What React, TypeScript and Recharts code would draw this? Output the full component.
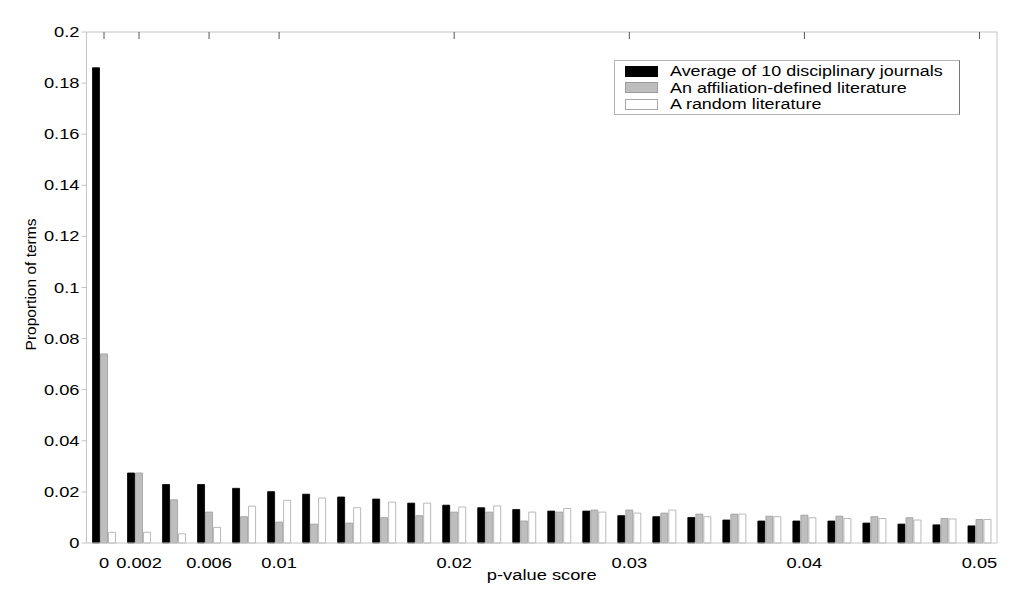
import React from 'react';
import { BarChart, Bar, XAxis, YAxis, Legend } from 'recharts';

const pValues = [
  '0', '0.002', '0.004', '0.006', '0.008', '0.01', '0.012', '0.014', '0.016', '0.018',
  '0.02', '0.022', '0.024', '0.026', '0.028', '0.03', '0.032', '0.034', '0.036', '0.038',
  '0.04', '0.042', '0.044', '0.046', '0.048', '0.05',
];

const disciplinary = [
  0.186, 0.0274, 0.0229, 0.0229, 0.0214, 0.0201, 0.0191, 0.018, 0.0172, 0.0156,
  0.0148, 0.0138, 0.0131, 0.0125, 0.0125, 0.0107, 0.0103, 0.01, 0.009, 0.0086,
  0.0086, 0.0086, 0.0078, 0.0074, 0.0071, 0.0067,
];

const affiliation = [
  0.074, 0.0274, 0.0169, 0.0121, 0.0103, 0.0082, 0.0074, 0.0078, 0.0099, 0.0107,
  0.0121, 0.0121, 0.0086, 0.0121, 0.0129, 0.0129, 0.0117, 0.0113, 0.0113, 0.0105,
  0.0109, 0.0105, 0.0103, 0.0099, 0.0096, 0.0092,
];

const randomLit = [
  0.0042, 0.0042, 0.0036, 0.0061, 0.0144, 0.0167, 0.0176, 0.0138, 0.016, 0.0156,
  0.0141, 0.0145, 0.0121, 0.0135, 0.0121, 0.0117, 0.0129, 0.0103, 0.0113, 0.0103,
  0.0099, 0.0096, 0.0096, 0.009, 0.0094, 0.0092,
];

const xTickLabels = ['0', '0.002', '0.006', '0.01', '0.02', '0.03', '0.04', '0.05'];
const yTicks = [0, 0.02, 0.04, 0.06, 0.08, 0.1, 0.12, 0.14, 0.16, 0.18, 0.2];
const yTickLabels = ['0', '0.02', '0.04', '0.06', '0.08', '0.1', '0.12', '0.14', '0.16', '0.18', '0.2'];

const series = [
  { key: 'disciplinary', name: 'Average of 10 disciplinary journals', fill: '#000000', stroke: '#000000' },
  { key: 'affiliation', name: 'An affiliation-defined literature', fill: '#bebebe', stroke: '#9c9c9c' },
  { key: 'randomLit', name: 'A random literature', fill: '#ffffff', stroke: '#a8a8a8' },
];

const data = pValues.map((p, i) => ({
  p,
  disciplinary: disciplinary[i],
  affiliation: affiliation[i],
  randomLit: randomLit[i],
}));

const FONT = '"Liberation Sans", Arial, Helvetica, sans-serif';
const STRETCH = 1.22;
const AXIS = '#c4c4c4';

const XTick = (props: any) => {
  const { x, y, payload } = props;
  if (!xTickLabels.includes(payload.value)) return null;
  return (
    <text
      transform={`translate(${x},${y + 17}) scale(${STRETCH},1)`}
      textAnchor="middle"
      fontFamily={FONT}
      fontSize={15}
      fill="#000"
    >
      {payload.value}
    </text>
  );
};

const YTick = (props: any) => {
  const { x, y, payload } = props;
  const idx = yTicks.indexOf(payload.value);
  return (
    <text
      transform={`translate(${x},${y + 5}) scale(${STRETCH},1)`}
      textAnchor="end"
      fontFamily={FONT}
      fontSize={15}
      fill="#000"
    >
      {idx >= 0 ? yTickLabels[idx] : ''}
    </text>
  );
};

// small inward tick marks on the top frame, only where the bottom has labels
const TopTick = (props: any) => {
  const { x, payload, viewBox } = props;
  if (!xTickLabels.includes(payload.value)) return <g />;
  const yb = viewBox ? viewBox.y + viewBox.height : 24;
  return <line x1={x} y1={yb} x2={x} y2={yb + 7} stroke="#555" strokeWidth={1} />;
};

// small inward tick marks on the right frame
const RightTick = (props: any) => {
  const { y, viewBox } = props;
  const xl = viewBox ? viewBox.x : 989;
  return <line x1={xl - 7} y1={y} x2={xl} y2={y} stroke="#555" strokeWidth={1} />;
};

const XLabel = (props: any) => {
  const { viewBox } = props;
  const cx = viewBox.x + viewBox.width / 2;
  return (
    <text
      transform={`translate(${cx},${viewBox.y + 37}) scale(${STRETCH},1)`}
      textAnchor="middle"
      fontFamily={FONT}
      fontSize={15}
      fill="#000"
    >
      p-value score
    </text>
  );
};

const YLabel = (props: any) => {
  const { viewBox } = props;
  const cy = viewBox.y + viewBox.height / 2 - 3;
  return (
    <text
      transform={`translate(${viewBox.x + 9},${cy}) rotate(-90)`}
      textAnchor="middle"
      fontFamily={FONT}
      fontSize={15.5}
      fill="#000"
    >
      Proportion of terms
    </text>
  );
};

const LegendBox = () => (
  <div
    style={{
      width: 344,
      height: 51,
      border: '1px solid #b4b4b4',
      borderRightColor: '#777',
      background: '#fff',
      boxSizing: 'content-box',
      paddingTop: 2,
    }}
  >
    {series.map((s) => (
      <div key={s.key} style={{ display: 'flex', alignItems: 'center', height: 16.5 }}>
        <div
          style={{
            width: 33,
            height: 11,
            marginLeft: 10,
            background: s.fill,
            border: `1px solid ${s.stroke}`,
            boxSizing: 'border-box',
          }}
        />
        <div
          style={{
            marginLeft: 12,
            fontFamily: FONT,
            fontSize: 14.7,
            color: '#000',
            transform: `scaleX(${STRETCH})`,
            transformOrigin: 'left center',
            whiteSpace: 'nowrap',
            lineHeight: '16px',
          }}
        >
          {s.name}
        </div>
      </div>
    ))}
  </div>
);

export default function App() {
  return (
    <BarChart
      width={1010}
      height={590}
      data={data}
      margin={{ top: 20, right: 11, left: 18.5, bottom: 5 }}
      barSize={7}
      barGap={1}
    >
      <XAxis
        dataKey="p"
        type="category"
        interval={0}
        height={50}
        axisLine={{ stroke: AXIS }}
        tickLine={false}
        tick={<XTick />}
        label={<XLabel />}
      />
      <XAxis
        xAxisId="top"
        dataKey="p"
        orientation="top"
        interval={0}
        height={4}
        tickSize={0}
        tickMargin={0}
        axisLine={{ stroke: AXIS }}
        tickLine={false}
        tick={<TopTick />}
      />
      <YAxis
        domain={[0, 0.2]}
        ticks={yTicks}
        width={60}
        axisLine={{ stroke: AXIS }}
        tickLine={{ stroke: AXIS }}
        tickSize={5}
        tickMargin={2}
        tick={<YTick />}
        label={<YLabel />}
      />
      <YAxis
        yAxisId="right"
        orientation="right"
        domain={[0, 0.2]}
        ticks={yTicks}
        width={10}
        tickSize={0}
        tickMargin={0}
        axisLine={{ stroke: AXIS }}
        tickLine={false}
        tick={<RightTick />}
      />
      <Legend
        layout="vertical"
        verticalAlign="middle"
        align="center"
        content={<LegendBox />}
        wrapperStyle={{ position: 'absolute', left: 606, top: 52, width: 346 }}
      />
      {series.map((s) => (
        <Bar
          key={s.key}
          dataKey={s.key}
          name={s.name}
          fill={s.fill}
          stroke={s.stroke}
          strokeWidth={0.8}
          isAnimationActive={false}
        />
      ))}
    </BarChart>
  );
}
